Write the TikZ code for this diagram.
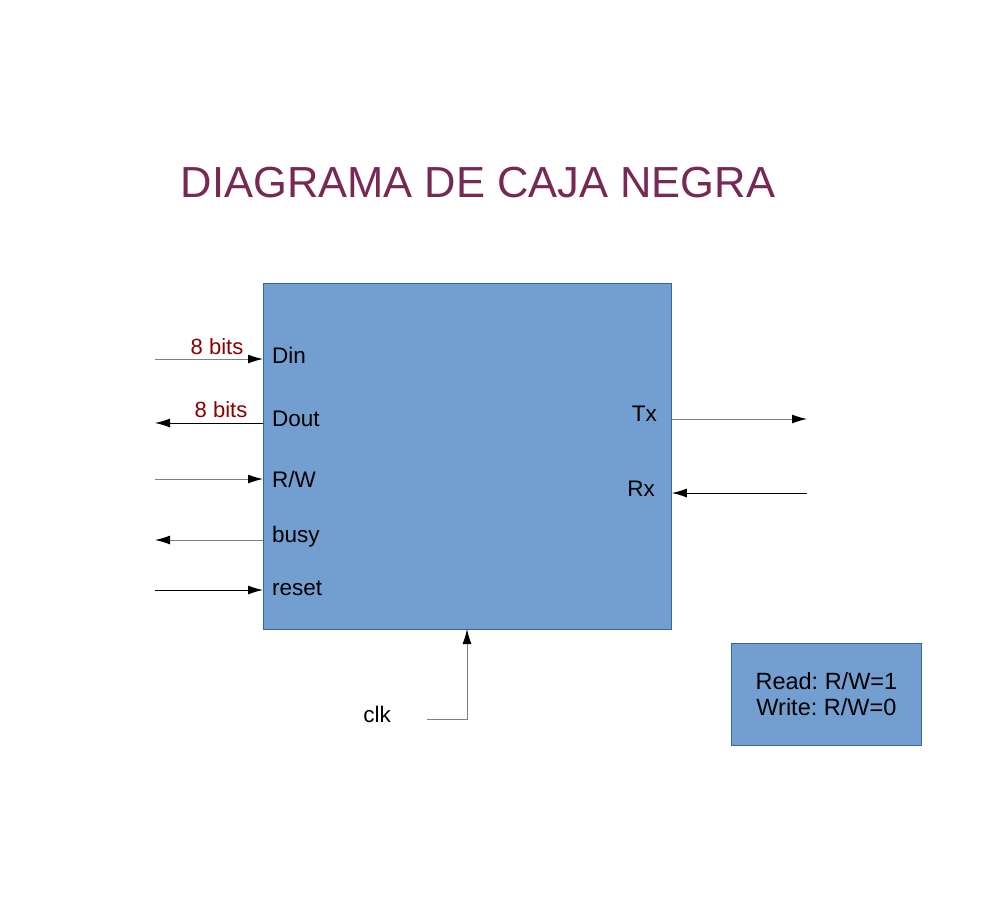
\documentclass[tikz,border=0pt]{standalone}
\usepackage{fontspec}
\setmainfont{Liberation Sans}
\usetikzlibrary{arrows.meta,positioning}
\definecolor{cajafill}{HTML}{729FCF}
\definecolor{cajaline}{HTML}{3465A4}
\definecolor{titlecol}{HTML}{772953}
\definecolor{bitscol}{HTML}{8B0000}
\frenchspacing

\begin{document}
\begin{tikzpicture}[
  x=1pt, y=-1pt,
  caja/.style={draw=cajaline, fill=cajafill, line width=0.8pt, inner sep=0pt, anchor=north west},
  port/.style={anchor=west, inner sep=0pt, font=\fontsize{22.5}{26}\selectfont},
  bits/.style={inner sep=0pt, text=bitscol, font=\fontsize{22}{26}\selectfont},
  signal/.style={-{Latex[length=15pt, width=9pt, color=black]}, draw=gray, line width=1pt}
]
\useasboundingbox (0,0) rectangle (1000,900);
\node[text=titlecol, font=\fontsize{43.5}{52}\selectfont, inner sep=0pt] (titulo) at (478,183) {DIAGRAMA DE CAJA NEGRA};
\node[caja, minimum width=190pt, minimum height=102pt, align=center, font=\fontsize{23.5}{26}\selectfont] (leyenda) at (731,643) {Read: R/W=1\\Write: R/W=0};
\node[caja, minimum width=408pt, minimum height=346pt] (bloque) at (263,283) {};
% puertos
\node[port] (din) at (272,355) {Din};
\node[port] (dout) at (272,419) {Dout};
\node[port] (rw) at (272,479) {R/W};
\node[port] (busy) at (272,537) {busy};
\node[port] (reset) at (272,588) {reset};
\node[port, anchor=east] (tx) at (657,414) {Tx};
\node[port, anchor=east] (rx) at (655,489) {Rx};
\node[port, anchor=center] (clk) at (377,714) {clk};
\node[bits] (bitsin) at (217,347) {8 bits};
\node[bits] (bitsout) at (221,410) {8 bits};
% extremos libres
\coordinate (din in) at (155,359);
\coordinate (dout out) at (155,423);
\coordinate (rw in) at (155,479);
\coordinate (busy out) at (155,540);
\coordinate (reset in) at (155,590);
\coordinate (tx out) at (807,419);
\coordinate (rx in) at (807,493);
\coordinate (clk in) at (427,719);
\coordinate (clk pin) at (467,629);
\draw[signal] (din in) -- (bloque.west |- din in);
\draw[signal, draw=black] (bloque.west |- dout out) -- (dout out);
\draw[signal] (rw in) -- (bloque.west |- rw in);
\draw[signal] (bloque.west |- busy out) -- (busy out);
\draw[signal, draw=black] (reset in) -- (bloque.west |- reset in);
\draw[signal] (bloque.east |- tx out) -- (tx out);
\draw[signal, draw=black] (rx in) -- (bloque.east |- rx in);
\draw[signal] (clk in) -| (clk pin);
\end{tikzpicture}
\end{document}
